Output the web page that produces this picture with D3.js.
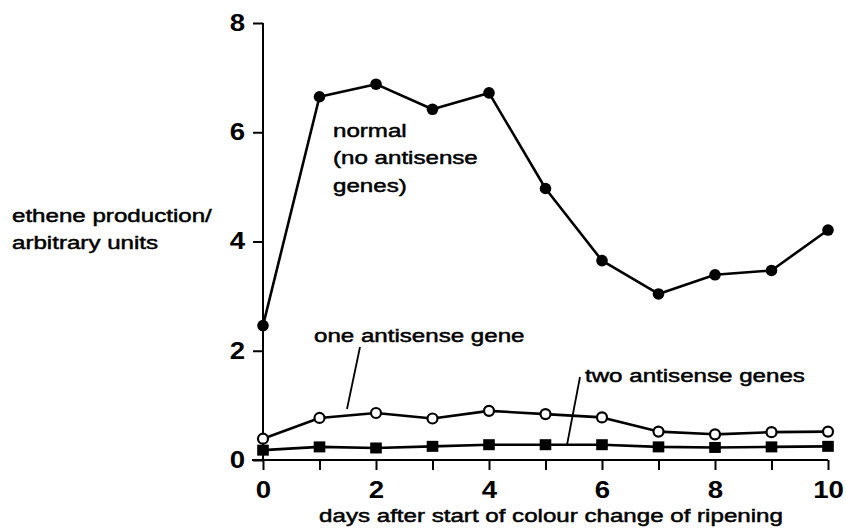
<!DOCTYPE html>
<html>
<head>
<meta charset="utf-8">
<script src="https://cdn.jsdelivr.net/npm/d3@7"></script>
<style>
  body { margin: 0; background: #fff; }
  svg text { font-family: "Liberation Sans", Arial, Helvetica, sans-serif; fill: #000; }
</style>
</head>
<body>
<div id="chart"></div>
<script>
// data
const days = [0, 1, 2, 3, 4, 5, 6, 7, 8, 9, 10];
const normal = [2.46, 6.65, 6.88, 6.42, 6.72, 4.97, 3.65, 3.04, 3.39, 3.47, 4.21];
const oneGene = [0.39, 0.77, 0.86, 0.76, 0.9, 0.84, 0.78, 0.52, 0.47, 0.51, 0.52];
const twoGenes = [0.18, 0.24, 0.22, 0.25, 0.28, 0.28, 0.28, 0.24, 0.23, 0.24, 0.25];
const xTicks = [0, 1, 2, 3, 4, 5, 6, 7, 8, 9, 10];
const xTickLabels = [0, 2, 4, 6, 8, 10];
const yTicks = [0, 2, 4, 6, 8];

const width = 846, height = 528;
// the scan is stretched sideways, so text is widened to match
const stretch = 1.27;
const labelSize = 19;

const svg = d3.select("#chart").append("svg")
    .attr("width", width)
    .attr("height", height);

const x = d3.scaleLinear().domain([0, 10]).range([263, 828]);
const y = d3.scaleLinear().domain([0, 8]).range([460, 23]);

// x axis
const xAxis = d3.axisBottom(x)
    .tickValues(xTicks)
    .tickSize(10)
    .tickFormat(d => xTickLabels.includes(d) ? d : "");
const gx = svg.append("g")
    .attr("transform", `translate(0,${y(0)})`)
    .call(xAxis);
gx.select(".domain").remove();
gx.append("line")
    .attr("x1", 252).attr("x2", x(10))
    .attr("stroke", "#000").attr("stroke-width", 2);
gx.selectAll(".tick line").attr("stroke-width", 2);
gx.selectAll(".tick text")
    .attr("y", 22)
    .attr("transform", "scale(1.2,1)")
    .style("font-size", "23px")
    .style("font-weight", "bold");

// y axis
const yAxis = d3.axisLeft(y)
    .tickValues(yTicks)
    .tickSize(10)
    .tickFormat(d3.format("d"));
const gy = svg.append("g")
    .attr("transform", `translate(${x(0)},0)`)
    .call(yAxis);
gy.select(".domain").remove();
gy.append("line")
    .attr("y1", y(8)).attr("y2", y(0))
    .attr("stroke", "#000").attr("stroke-width", 2);
gy.selectAll(".tick line").attr("stroke-width", 2);
gy.selectAll(".tick text")
    .attr("x", -18 / 1.2)
    .attr("transform", function() {
        // keep the tick's own translate, add the widening
        return "scale(1.2,1)";
    })
    .style("font-size", "23px")
    .style("font-weight", "bold");

// lines
const line = d3.line()
    .x((d, i) => x(days[i]))
    .y(d => y(d));

[normal, oneGene, twoGenes].forEach(s => {
    svg.append("path")
        .datum(s)
        .attr("d", line)
        .attr("fill", "none")
        .attr("stroke", "#000")
        .attr("stroke-width", 2.6)
        .attr("stroke-linejoin", "round");
});

// markers
svg.selectAll(".dot-normal")
    .data(normal)
    .join("circle")
    .attr("cx", (d, i) => x(days[i]))
    .attr("cy", d => y(d))
    .attr("r", 5.8)
    .attr("fill", "#000");

svg.selectAll(".dot-one")
    .data(oneGene)
    .join("circle")
    .attr("cx", (d, i) => x(days[i]))
    .attr("cy", d => y(d))
    .attr("r", 5)
    .attr("fill", "#fff")
    .attr("stroke", "#000")
    .attr("stroke-width", 2.2);

svg.selectAll(".sq-two")
    .data(twoGenes)
    .join("rect")
    .attr("x", (d, i) => x(days[i]) - 5.8)
    .attr("y", d => y(d) - 5.5)
    .attr("width", 11.6)
    .attr("height", 11)
    .attr("fill", "#000");

// text helper: widened, slightly heavy like the print
function addText(px, py, lines, lineGap, anchor) {
    const t = svg.append("text")
        .attr("transform", `translate(${px},${py}) scale(${stretch},1)`)
        .attr("text-anchor", anchor || "start")
        .style("font-size", labelSize + "px")
        .style("stroke", "#000")
        .style("stroke-width", 0.5);
    t.selectAll("tspan")
        .data(lines)
        .join("tspan")
        .attr("x", 0)
        .attr("dy", (d, i) => i ? lineGap : 0)
        .text(d => d);
    return t;
}

addText(333, 137, ["normal", "(no antisense", "genes)"], 27.5);

addText(314, 342, ["one antisense gene"]);
svg.append("line")
    .attr("x1", 360).attr("y1", 347)
    .attr("x2", 347).attr("y2", 409)
    .attr("stroke", "#000").attr("stroke-width", 1.8);

addText(585, 382, ["two antisense genes"]);
svg.append("line")
    .attr("x1", 580).attr("y1", 377)
    .attr("x2", 567).attr("y2", 445)
    .attr("stroke", "#000").attr("stroke-width", 1.8);

// axis titles
addText(12, 222, ["ethene production/", "arbitrary units"], 27);
addText(551, 522, ["days after start of colour change of ripening"], 0, "middle");
</script>
</body>
</html>
